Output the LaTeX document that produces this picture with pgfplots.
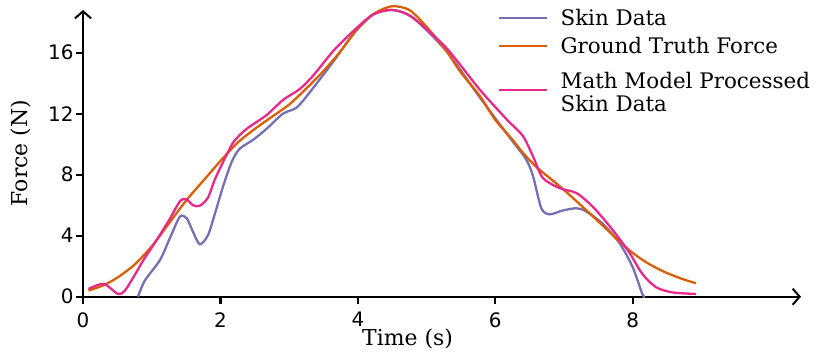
\documentclass[border=0pt]{standalone}
\usepackage{fontspec}
\setmainfont{DejaVu Serif}
\newfontfamily\ticksfont{DejaVu Sans}
\usepackage{pgfplots}
\pgfplotsset{compat=1.18}
\usetikzlibrary{arrows.meta}
\definecolor{skin}{HTML}{7570B3}
\definecolor{truth}{HTML}{D95F02}
\definecolor{model}{HTML}{E7298A}

\begin{document}
\begin{tikzpicture}[x=1bp,y=1bp]
\useasboundingbox (0,0) rectangle (830,359);
\begin{axis}[
    at={(83bp,62.3bp)}, anchor=south west,
    scale only axis, width=718bp, height=286.7bp,
    xmin=0, xmax=10.45, ymin=0, ymax=18.8,
    clip=false,
    axis lines=left,
    axis line style={line width=2bp, -{Straight Barb[length=7bp,width=16bp,line width=2bp]}},
    xtick={0,2,4,6,8}, ytick={0,4,8,12,16},
    tick align=outside, major tick length=7bp,
    tick style={black, line width=2.2bp},
    /pgf/number format/assume math mode=true,
    ticklabel style={font=\ticksfont\fontsize{20}{22}\selectfont, text=black},
    xticklabel style={yshift=-5bp},
    yticklabel style={xshift=1bp},
    xlabel={Time (s)}, ylabel={Force (N)},
    label style={font=\fontsize{22}{26}\selectfont},
    xlabel style={at={(axis description cs:0.452,-0.171)}, anchor=base},
    ylabel style={at={(axis description cs:-0.086,0.501)}, anchor=center},
    legend style={at={(axis cs:6.0,19.15)}, anchor=north west, draw=none, fill=none,
        font=\fontsize{21.5}{23.5}\selectfont, cells={align=left, anchor=west}, row sep=7bp},
    legend cell align=left,
    legend image code/.code={\draw[#1, line width=2bp] (0bp,0bp) -- (48bp,0bp); \path (58bp,0bp);},
    every axis plot/.append style={line width=2.3bp, smooth, tension=0.45},
]
\addplot[skin] coordinates {
(0.80,0) (0.90,1.06) (1.12,2.4) (1.27,3.9) (1.41,5.25) (1.51,5.14) (1.60,4.26)
(1.70,3.44) (1.82,4.04) (1.93,5.6) (2.05,7.4) (2.17,8.9) (2.28,9.7) (2.48,10.3)
(2.67,11.0) (2.91,12.0) (3.11,12.4) (3.30,13.4) (3.64,15.4) (3.93,17.2)
(4.22,18.5) (4.5,18.8) (4.8,18.3) (5.29,16.1) (5.77,13.1) (6.25,10.2)
(6.45,9.0) (6.55,7.9) (6.67,5.8) (6.79,5.4) (6.98,5.65) (7.18,5.8) (7.32,5.6)
(7.56,4.8) (7.81,3.5) (8.0,1.94) (8.14,0.18) (8.18,0)
};
\addlegendentry{Skin Data}
\addplot[truth] coordinates {
(0.08,0.4) (0.3,0.75) (0.5,1.25) (0.75,2.1) (1.0,3.3) (1.25,4.8) (1.5,6.3)
(1.75,7.6) (2.0,8.9) (2.25,10.1) (2.5,11.0) (2.75,11.8) (3.0,12.6) (3.25,13.65)
(3.5,14.8) (3.75,16.1) (4.0,17.6) (4.25,18.6) (4.5,19.05) (4.75,18.8) (5.0,17.7)
(5.29,16.1) (5.5,14.7) (5.77,13.2) (6.0,11.6) (6.25,10.3) (6.4,9.45) (6.6,8.5)
(6.88,7.46) (7.1,6.6) (7.37,5.48) (7.65,4.3) (7.95,3.05) (8.2,2.25) (8.45,1.65)
(8.7,1.2) (8.92,0.88)
};
\addlegendentry{Ground Truth Force}
\addplot[model] coordinates {
(0.08,0.51) (0.30,0.84) (0.51,0.18) (0.61,0.4) (0.75,1.4) (0.88,2.4) (1.07,3.7)
(1.25,5.0) (1.41,6.25) (1.50,6.4) (1.60,6.0) (1.70,5.96) (1.82,6.5) (1.92,7.7)
(2.09,9.3) (2.2,10.2) (2.38,11.0) (2.67,11.9) (2.91,12.9) (3.15,13.6) (3.35,14.5)
(3.64,16.1) (3.93,17.4) (4.22,18.5) (4.51,18.8) (4.80,18.3) (5.29,16.3)
(5.77,13.6) (6.16,11.66) (6.40,10.55) (6.55,9.2) (6.69,7.8) (6.93,7.13)
(7.18,6.8) (7.42,5.9) (7.71,4.37) (7.95,2.9) (8.14,1.5) (8.34,0.62) (8.58,0.28)
(8.92,0.18)
};
\addlegendentry{\rule{0pt}{22bp}Math Model Processed\\Skin Data}
\end{axis}
\end{tikzpicture}
\end{document}
